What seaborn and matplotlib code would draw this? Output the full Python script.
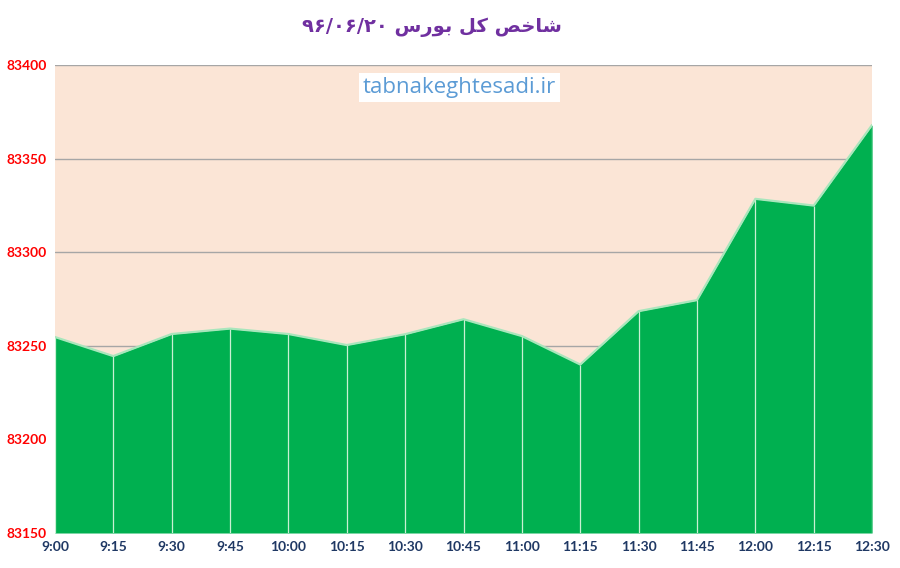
import numpy as np
import pandas as pd
import seaborn as sns
import matplotlib.pyplot as plt

# data
times = ["9:00", "9:15", "9:30", "9:45", "10:00", "10:15", "10:30", "10:45",
         "11:00", "11:15", "11:30", "11:45", "12:00", "12:15", "12:30"]
index_values = [83254.7, 83244.5, 83256.3, 83259.2, 83256.3, 83250.4, 83256.2, 83264.2,
                83255.2, 83240.0, 83268.5, 83274.4, 83328.5, 83324.9, 83368.0]
y_ticks = [83150, 83200, 83250, 83300, 83350, 83400]

# title "شاخص کل بورس ۹۶/۰۶/۲۰" written in shaped presentation forms, visual order
title = ("\u06F9\u06F6/\u06F0\u06F6/\u06F2\u06F0 "
         "\uFEB1\uFEAD\uFEEE\uFE91 "
         "\uFEDE\uFB90 "
         "\uFEBA\uFEA7\uFE8E\uFEB7")

sns.set_style("white")
plt.rcParams["font.family"] = ["Lato", "DejaVu Sans"]

df = pd.DataFrame({"pos": np.arange(len(times)), "value": index_values})

fig = plt.figure(figsize=(9, 5.68), dpi=100)
ax = fig.add_axes([0.061, 0.0616, 0.908, 0.824])
ax.set_facecolor("#FBE5D6")

for t in y_ticks[1:]:
    ax.axhline(t, color="#A6A6A6", lw=1, zorder=1)

ax.fill_between(df["pos"], y_ticks[0], df["value"], color="#00B050", lw=0, zorder=2)
ax.vlines(df["pos"], y_ticks[0], df["value"], color="#C9F0D3", lw=0.9, zorder=3)
sns.lineplot(data=df, x="pos", y="value", color="#A9E6BC", lw=1.6, ax=ax, zorder=4)

ax.set_xlim(0, len(times) - 1)
ax.set_ylim(y_ticks[0], y_ticks[-1])
ax.set_xticks(df["pos"])
ax.set_xticklabels(times, color="#1F3864", fontweight="bold", fontsize=10)
ax.set_yticks(y_ticks)
ax.set_yticklabels([str(t) for t in y_ticks], color="#FF0000", fontweight="bold", fontsize=10)
ax.tick_params(axis="both", length=0, pad=6)
ax.set_xlabel("")
ax.set_ylabel("")
for s in ax.spines.values():
    s.set_visible(False)

fig.text(0.48, 0.952, title, ha="center", va="center", fontsize=14, fontweight="bold",
         color="#7030A0", family=["DejaVu Sans"])

ax.text(0.495, 0.952, "tabnakeghtesadi.ir", transform=ax.transAxes, ha="center", va="center",
        fontsize=16, color="#5B9BD5", family=["Open Sans", "DejaVu Sans"], zorder=5,
        bbox=dict(facecolor="white", edgecolor="none", pad=3))

fig.savefig("out.png", dpi=100)
